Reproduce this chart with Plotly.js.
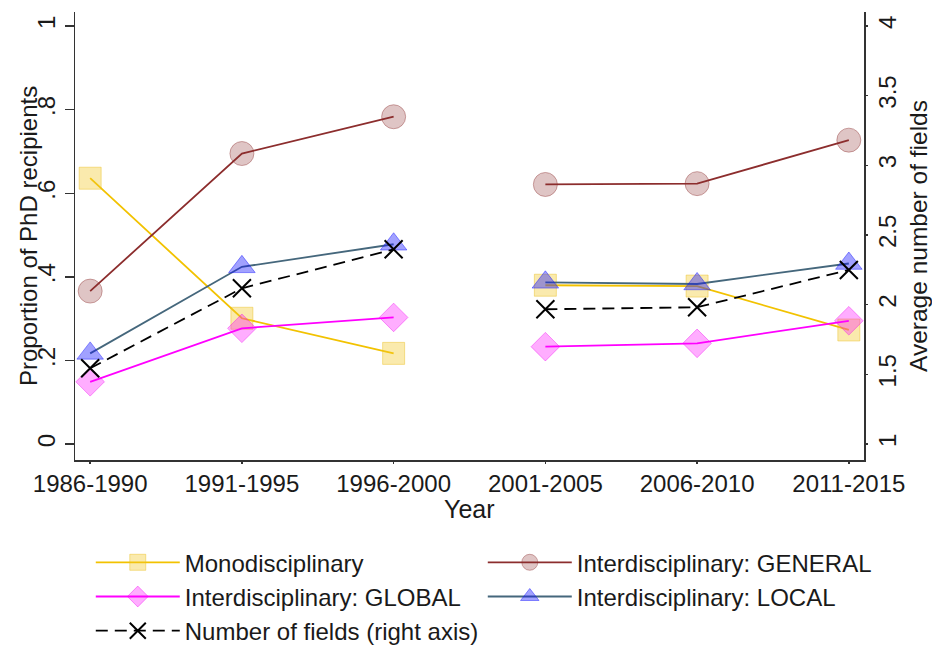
<!DOCTYPE html>
<html>
<head>
<meta charset="utf-8">
<script src="https://cdn.plot.ly/plotly-3.0.1.min.js"></script>
<style>html,body{margin:0;padding:0;background:#fff;}#chart{width:932px;height:647px;}</style>
</head>
<body>
<div id="chart"></div>
<script>
const categories = ['1986-1990','1991-1995','1996-2000','2001-2005','2006-2010','2011-2015'];
const breakAfter = 2; // lines are broken between 1996-2000 and 2001-2005
const mono    = [0.636, 0.301, 0.217, 0.380, 0.378, 0.273];
const general = [0.366, 0.695, 0.783, 0.621, 0.623, 0.727];
const global_ = [0.149, 0.277, 0.303, 0.233, 0.241, 0.295];
const local   = [0.217, 0.424, 0.478, 0.387, 0.383, 0.432];
const fields  = [1.543, 2.117, 2.397, 1.967, 1.981, 2.249];
const leftTicks  = [0, 0.2, 0.4, 0.6, 0.8, 1];
const leftLabels = ['0', '.2', '.4', '.6', '.8', '1'];
const rightTicks  = [1, 1.5, 2, 2.5, 3, 3.5, 4];
const rightLabels = ['1', '1.5', '2', '2.5', '3', '3.5', '4'];
const leftTitle = 'Proportion of PhD recipients';
const rightTitle = 'Average number of fields';
const xTitle = 'Year';

function withBreak(vals) {
  const x = [], y = [];
  vals.forEach((v, i) => {
    x.push(i); y.push(v);
    if (i === breakAfter) { x.push(null); y.push(null); }
  });
  return {x, y};
}

function series(name, vals, lineColor, sym, size, fill, edge, extra) {
  const d = withBreak(vals);
  return Object.assign({
    type: 'scatter', mode: 'lines+markers', name: name,
    x: d.x, y: d.y, connectgaps: false,
    line: {color: lineColor, width: 1.8},
    marker: {symbol: sym, size: size, color: fill, line: {color: edge, width: 1}}
  }, extra || {});
}

const traces = [
  series('Monodisciplinary', mono, '#f2c200', 'square', 22, 'rgba(242,200,40,0.38)', 'rgba(235,190,30,0.45)'),
  series('Interdisciplinary: GENERAL', general, '#8c2d2d', 'circle', 24, 'rgba(140,45,45,0.28)', 'rgba(140,45,45,0.4)'),
  series('Interdisciplinary: GLOBAL', global_, '#ff00ff', 'diamond', 22, 'rgba(255,0,255,0.32)', 'rgba(240,0,240,0.4)'),
  series('Interdisciplinary: LOCAL', local, '#45677c', 'triangle-up', 23, 'rgba(20,20,255,0.4)', 'rgba(20,20,255,0.45)'),
  Object.assign(series('Number of fields (right axis)', fields, '#000000', 'x-thin', 18, '#000000', '#000000'),
    {yaxis: 'y2', line: {color: '#000000', width: 1.8, dash: '12px,7px'},
     marker: {symbol: 'x-thin', size: 18, color: '#000000', line: {color: '#000000', width: 2}}})
];

const axisLine = '#333333';
const textColor = '#1a1a1a';
const xRange = [-0.1, 5.1];
const rightRange = [0.885, 4.1];
const xTickVals = categories.map((c, i) => i);
const layout = {
  width: 932, height: 647,
  margin: {l: 75, r: 68, t: 12, b: 187, autoexpand: false},
  paper_bgcolor: '#ffffff', plot_bgcolor: '#ffffff',
  font: {family: 'Liberation Sans, Arial, Helvetica, sans-serif', size: 24, color: textColor},
  showlegend: true,
  xaxis: {
    range: xRange, tickvals: xTickVals, ticktext: categories,
    showgrid: false, zeroline: false, showline: true, linecolor: axisLine, linewidth: 1.5,
    ticks: 'outside', ticklen: 2, tickcolor: axisLine, tickwidth: 1.5
  },
  xaxis2: {
    overlaying: 'x', anchor: 'y', side: 'bottom', range: xRange, tickvals: xTickVals,
    showticklabels: false, showgrid: false, zeroline: false, showline: false,
    ticks: 'outside', ticklen: 10, tickcolor: axisLine, tickwidth: 1.5
  },
  yaxis: {
    range: [-0.038, 1.0335], tickvals: leftTicks, ticktext: leftLabels, tickangle: -90,
    showgrid: false, zeroline: false, showline: true, linecolor: axisLine, linewidth: 1.5,
    ticks: 'outside', ticklen: 9, tickcolor: axisLine, tickwidth: 1.5
  },
  yaxis2: {
    overlaying: 'y', side: 'right', anchor: 'x',
    range: rightRange, tickvals: rightTicks, ticktext: rightLabels, tickangle: -90,
    showgrid: false, zeroline: false, showline: true, linecolor: axisLine, linewidth: 1.5,
    ticks: 'outside', ticklen: 2, tickcolor: axisLine, tickwidth: 1.5,
    title: {text: rightTitle, standoff: 18, font: {size: 24.5, color: textColor}}
  },
  yaxis3: {
    overlaying: 'y', side: 'right', anchor: 'x',
    range: rightRange, tickvals: rightTicks, showticklabels: false,
    showgrid: false, zeroline: false, showline: false,
    ticks: 'outside', ticklen: 9, tickcolor: axisLine, tickwidth: 1.5
  },
  annotations: [{
    text: leftTitle, xref: 'paper', yref: 'paper', x: -0.0596, y: 0.5,
    xanchor: 'center', yanchor: 'middle', textangle: -90, showarrow: false,
    font: {size: 24, color: textColor}
  }, {
    text: xTitle, xref: 'paper', yref: 'paper', x: 0.5, y: -0.109,
    xanchor: 'center', yanchor: 'middle', showarrow: false,
    font: {size: 25, color: textColor}
  }],
  legend: {
    orientation: 'h', x: 0.02, xanchor: 'left', y: -0.179, yanchor: 'top',
    entrywidth: 293, entrywidthmode: 'pixels', itemwidth: 84,
    font: {size: 24}, bgcolor: 'rgba(0,0,0,0)', traceorder: 'normal'
  }
};

Plotly.newPlot('chart', traces, layout, {displayModeBar: false, staticPlot: true});
</script>
</body>
</html>
